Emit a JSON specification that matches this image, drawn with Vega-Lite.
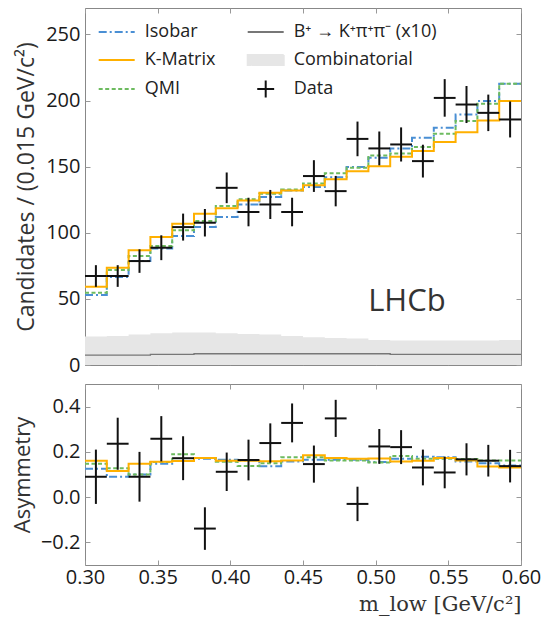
{
  "$schema": "https://vega.github.io/schema/vega-lite/v6.json",
  "padding": {"left": 10, "top": 7, "right": 2, "bottom": 2},
  "bounds": "flush",
  "spacing": 19,
  "datasets": {
    "models": [
      {"m": 0.3, "s": "Isobar", "n": 52.9, "a": 0.125},
      {"m": 0.315, "s": "Isobar", "n": 66.5, "a": 0.09},
      {"m": 0.33, "s": "Isobar", "n": 78.6, "a": 0.1},
      {"m": 0.345, "s": "Isobar", "n": 88.2, "a": 0.147},
      {"m": 0.36, "s": "Isobar", "n": 97.5, "a": 0.16},
      {"m": 0.375, "s": "Isobar", "n": 104.3, "a": 0.17},
      {"m": 0.39, "s": "Isobar", "n": 111.9, "a": 0.165},
      {"m": 0.405, "s": "Isobar", "n": 121.4, "a": 0.162},
      {"m": 0.42, "s": "Isobar", "n": 127, "a": 0.136},
      {"m": 0.435, "s": "Isobar", "n": 132, "a": 0.158},
      {"m": 0.45, "s": "Isobar", "n": 134.6, "a": 0.165},
      {"m": 0.465, "s": "Isobar", "n": 142, "a": 0.165},
      {"m": 0.48, "s": "Isobar", "n": 149.7, "a": 0.165},
      {"m": 0.495, "s": "Isobar", "n": 156.8, "a": 0.155},
      {"m": 0.51, "s": "Isobar", "n": 163.8, "a": 0.17},
      {"m": 0.525, "s": "Isobar", "n": 171.8, "a": 0.179},
      {"m": 0.54, "s": "Isobar", "n": 179.4, "a": 0.176},
      {"m": 0.555, "s": "Isobar", "n": 189.5, "a": 0.158},
      {"m": 0.57, "s": "Isobar", "n": 199.6, "a": 0.15},
      {"m": 0.585, "s": "Isobar", "n": 212.7, "a": 0.14},
      {"m": 0.6, "s": "Isobar", "n": 212.7, "a": 0.14},
      {"m": 0.3, "s": "K-Matrix", "n": 59.2, "a": 0.161},
      {"m": 0.315, "s": "K-Matrix", "n": 73.6, "a": 0.116},
      {"m": 0.33, "s": "K-Matrix", "n": 86.7, "a": 0.148},
      {"m": 0.345, "s": "K-Matrix", "n": 96.8, "a": 0.156},
      {"m": 0.36, "s": "K-Matrix", "n": 106.8, "a": 0.16},
      {"m": 0.375, "s": "K-Matrix", "n": 114.4, "a": 0.173},
      {"m": 0.39, "s": "K-Matrix", "n": 118.5, "a": 0.161},
      {"m": 0.405, "s": "K-Matrix", "n": 124.5, "a": 0.161},
      {"m": 0.42, "s": "K-Matrix", "n": 130.3, "a": 0.159},
      {"m": 0.435, "s": "K-Matrix", "n": 132, "a": 0.162},
      {"m": 0.45, "s": "K-Matrix", "n": 136, "a": 0.185},
      {"m": 0.465, "s": "K-Matrix", "n": 140.4, "a": 0.173},
      {"m": 0.48, "s": "K-Matrix", "n": 146.6, "a": 0.17},
      {"m": 0.495, "s": "K-Matrix", "n": 150.4, "a": 0.171},
      {"m": 0.51, "s": "K-Matrix", "n": 157.5, "a": 0.157},
      {"m": 0.525, "s": "K-Matrix", "n": 161.8, "a": 0.161},
      {"m": 0.54, "s": "K-Matrix", "n": 168.6, "a": 0.173},
      {"m": 0.555, "s": "K-Matrix", "n": 176, "a": 0.162},
      {"m": 0.57, "s": "K-Matrix", "n": 185, "a": 0.135},
      {"m": 0.585, "s": "K-Matrix", "n": 199.6, "a": 0.131},
      {"m": 0.6, "s": "K-Matrix", "n": 199.6, "a": 0.131},
      {"m": 0.3, "s": "QMI", "n": 54.7, "a": 0.147},
      {"m": 0.315, "s": "QMI", "n": 71.8, "a": 0.128},
      {"m": 0.33, "s": "QMI", "n": 82.4, "a": 0.1},
      {"m": 0.345, "s": "QMI", "n": 90, "a": 0.155},
      {"m": 0.36, "s": "QMI", "n": 102, "a": 0.19},
      {"m": 0.375, "s": "QMI", "n": 108.9, "a": 0.173},
      {"m": 0.39, "s": "QMI", "n": 120.2, "a": 0.156},
      {"m": 0.405, "s": "QMI", "n": 125.3, "a": 0.138},
      {"m": 0.42, "s": "QMI", "n": 129.5, "a": 0.15},
      {"m": 0.435, "s": "QMI", "n": 132.8, "a": 0.176},
      {"m": 0.45, "s": "QMI", "n": 137.3, "a": 0.176},
      {"m": 0.465, "s": "QMI", "n": 145, "a": 0.162},
      {"m": 0.48, "s": "QMI", "n": 149.2, "a": 0.162},
      {"m": 0.495, "s": "QMI", "n": 158.5, "a": 0.153},
      {"m": 0.51, "s": "QMI", "n": 160, "a": 0.182},
      {"m": 0.525, "s": "QMI", "n": 164.8, "a": 0.17},
      {"m": 0.54, "s": "QMI", "n": 174.9, "a": 0.17},
      {"m": 0.555, "s": "QMI", "n": 184.5, "a": 0.168},
      {"m": 0.57, "s": "QMI", "n": 197.6, "a": 0.162},
      {"m": 0.585, "s": "QMI", "n": 212.7, "a": 0.162},
      {"m": 0.6, "s": "QMI", "n": 212.7, "a": 0.162}
    ],
    "bkg": [
      {"m": 0.3, "comb": 21.5, "k": 7.5},
      {"m": 0.315, "comb": 22, "k": 7.5},
      {"m": 0.33, "comb": 23, "k": 7.5},
      {"m": 0.345, "comb": 24, "k": 8},
      {"m": 0.36, "comb": 24.5, "k": 8},
      {"m": 0.375, "comb": 24.5, "k": 8.5},
      {"m": 0.39, "comb": 24, "k": 8.5},
      {"m": 0.405, "comb": 23.5, "k": 8.5},
      {"m": 0.42, "comb": 23, "k": 8.5},
      {"m": 0.435, "comb": 22, "k": 8.5},
      {"m": 0.45, "comb": 21, "k": 8.5},
      {"m": 0.465, "comb": 20.5, "k": 8.5},
      {"m": 0.48, "comb": 20, "k": 8.5},
      {"m": 0.495, "comb": 19, "k": 8.5},
      {"m": 0.51, "comb": 18.5, "k": 8},
      {"m": 0.525, "comb": 18.5, "k": 8},
      {"m": 0.54, "comb": 18.5, "k": 8},
      {"m": 0.555, "comb": 18.5, "k": 8},
      {"m": 0.57, "comb": 18.5, "k": 8},
      {"m": 0.585, "comb": 19, "k": 8},
      {"m": 0.6, "comb": 19, "k": 8}
    ],
    "obs": [
      {"lo": 0.3, "hi": 0.315, "c": 0.3075, "n": 67.3, "nlo": 59.1, "nhi": 75.5, "a": 0.09, "alo": -0.03, "ahi": 0.21},
      {"lo": 0.315, "hi": 0.33, "c": 0.3225, "n": 67.3, "nlo": 59.1, "nhi": 75.5, "a": 0.236, "alo": 0.121, "ahi": 0.351},
      {"lo": 0.33, "hi": 0.345, "c": 0.3375, "n": 78.6, "nlo": 69.7, "nhi": 87.5, "a": 0.09, "alo": -0.02, "ahi": 0.2},
      {"lo": 0.345, "hi": 0.36, "c": 0.3525, "n": 88.7, "nlo": 79.3, "nhi": 98.1, "a": 0.258, "alo": 0.158, "ahi": 0.358},
      {"lo": 0.36, "hi": 0.375, "c": 0.3675, "n": 104.3, "nlo": 94.1, "nhi": 114.5, "a": 0.172, "alo": 0.075, "ahi": 0.269},
      {"lo": 0.375, "hi": 0.39, "c": 0.3825, "n": 107.6, "nlo": 97.2, "nhi": 118.0, "a": -0.139, "alo": -0.233, "ahi": -0.045},
      {"lo": 0.39, "hi": 0.405, "c": 0.3975, "n": 134, "nlo": 122.4, "nhi": 145.6, "a": 0.112, "alo": 0.027, "ahi": 0.197},
      {"lo": 0.405, "hi": 0.42, "c": 0.4125, "n": 115.7, "nlo": 104.9, "nhi": 126.5, "a": 0.164, "alo": 0.074, "ahi": 0.254},
      {"lo": 0.42, "hi": 0.435, "c": 0.4275, "n": 121.4, "nlo": 110.4, "nhi": 132.4, "a": 0.239, "alo": 0.152, "ahi": 0.326},
      {"lo": 0.435, "hi": 0.45, "c": 0.4425, "n": 115.7, "nlo": 104.9, "nhi": 126.5, "a": 0.328, "alo": 0.242, "ahi": 0.414},
      {"lo": 0.45, "hi": 0.465, "c": 0.4575, "n": 142.9, "nlo": 130.9, "nhi": 154.9, "a": 0.146, "alo": 0.064, "ahi": 0.228},
      {"lo": 0.465, "hi": 0.48, "c": 0.4725, "n": 131.5, "nlo": 120.0, "nhi": 143.0, "a": 0.348, "alo": 0.266, "ahi": 0.43},
      {"lo": 0.48, "hi": 0.495, "c": 0.4875, "n": 171, "nlo": 157.9, "nhi": 184.1, "a": -0.03, "alo": -0.106, "ahi": 0.046},
      {"lo": 0.495, "hi": 0.51, "c": 0.5025, "n": 163.8, "nlo": 151.0, "nhi": 176.6, "a": 0.224, "alo": 0.147, "ahi": 0.301},
      {"lo": 0.51, "hi": 0.525, "c": 0.5175, "n": 166.8, "nlo": 153.9, "nhi": 179.7, "a": 0.221, "alo": 0.146, "ahi": 0.296},
      {"lo": 0.525, "hi": 0.54, "c": 0.5325, "n": 154.2, "nlo": 141.8, "nhi": 166.6, "a": 0.131, "alo": 0.052, "ahi": 0.21},
      {"lo": 0.54, "hi": 0.555, "c": 0.5475, "n": 202, "nlo": 187.8, "nhi": 216.2, "a": 0.109, "alo": 0.039, "ahi": 0.179},
      {"lo": 0.555, "hi": 0.57, "c": 0.5625, "n": 197, "nlo": 183.0, "nhi": 211.0, "a": 0.167, "alo": 0.096, "ahi": 0.238},
      {"lo": 0.57, "hi": 0.585, "c": 0.5775, "n": 190.7, "nlo": 176.9, "nhi": 204.5, "a": 0.161, "alo": 0.091, "ahi": 0.231},
      {"lo": 0.585, "hi": 0.6, "c": 0.5925, "n": 185.7, "nlo": 172.1, "nhi": 199.3, "a": 0.137, "alo": 0.065, "ahi": 0.209}
    ],
    "legendItems": [
      {"s": "Isobar"}, {"s": "K-Matrix"}, {"s": "QMI"}, {"s": "B⁺ → K⁺π⁺π⁻ (x10)"}, {"s": "Combinatorial"}, {"s": "Data"}
    ]
  },
  "vconcat": [
    {
      "width": 436,
      "height": 357,
      "resolve": {"axis": {"x": "independent", "y": "independent"}},
      "layer": [
        {
          "data": {"name": "bkg"},
          "mark": {"type": "area", "interpolate": "step-after", "fill": "#e6e6e6"},
          "encoding": {
            "x": {"field": "m", "type": "quantitative", "scale": {"domain": [0.3, 0.6], "nice": false, "zero": false},
                  "axis": {"orient": "bottom", "values": [0.3, 0.35, 0.4, 0.45, 0.5, 0.55, 0.6], "labels": false, "title": null}},
            "y": {"field": "comb", "type": "quantitative", "scale": {"domain": [0, 270], "nice": false},
                  "axis": {"orient": "left", "values": [0, 50, 100, 150, 200, 250], "format": "d", "title": "Candidates / (0.015 GeV/c²)", "titlePadding": 7, "titleFontSize": 23}}
          }
        },
        {
          "data": {"name": "bkg"},
          "mark": {"type": "line", "interpolate": "step-after", "stroke": "#777777", "strokeWidth": 1.3},
          "encoding": {
            "x": {"field": "m", "type": "quantitative", "axis": null},
            "y": {"field": "k", "type": "quantitative", "axis": null}
          }
        },
        {
          "data": {"name": "models"},
          "transform": [{"filter": "datum.s === 'Isobar'"}],
          "mark": {"type": "line", "interpolate": "step-after", "strokeWidth": 2, "stroke": "#4a8fd4", "strokeDash": [8, 3, 2, 3]},
          "encoding": {
            "x": {"field": "m", "type": "quantitative", "axis": null},
            "y": {"field": "n", "type": "quantitative", "axis": null}
          }
        },
        {
          "data": {"name": "models"},
          "transform": [{"filter": "datum.s === 'QMI'"}],
          "mark": {"type": "line", "interpolate": "step-after", "strokeWidth": 2, "stroke": "#6dbb5f", "strokeDash": [4, 2.5]},
          "encoding": {
            "x": {"field": "m", "type": "quantitative", "axis": null},
            "y": {"field": "n", "type": "quantitative", "axis": null}
          }
        },
        {
          "data": {"name": "models"},
          "transform": [{"filter": "datum.s === 'K-Matrix'"}],
          "mark": {"type": "line", "interpolate": "step-after", "strokeWidth": 2, "stroke": "#ffb000"},
          "encoding": {
            "x": {"field": "m", "type": "quantitative", "axis": null},
            "y": {"field": "n", "type": "quantitative", "axis": null}
          }
        },
        {
          "data": {"name": "obs"},
          "mark": {"type": "rule", "color": "#111111", "strokeWidth": 2},
          "encoding": {
            "x": {"field": "c", "type": "quantitative",
                  "axis": {"orient": "top", "values": [0.3, 0.35, 0.4, 0.45, 0.5, 0.55, 0.6], "labels": false, "title": null}},
            "y": {"field": "nlo", "type": "quantitative",
                  "axis": {"orient": "right", "values": [0, 50, 100, 150, 200, 250], "labels": false, "title": null}},
            "y2": {"field": "nhi"}
          }
        },
        {
          "data": {"name": "obs"},
          "mark": {"type": "rule", "color": "#111111", "strokeWidth": 2},
          "encoding": {
            "x": {"field": "lo", "type": "quantitative", "axis": null},
            "x2": {"field": "hi"},
            "y": {"field": "n", "type": "quantitative", "axis": null}
          }
        },
        {
          "data": {"values": [{"t": "LHCb"}]},
          "mark": {"type": "text", "font": "Open Sans", "fontSize": 31, "color": "#333333", "align": "center", "baseline": "alphabetic"},
          "encoding": {
            "x": {"datum": 0.5215, "type": "quantitative", "axis": null},
            "y": {"datum": 41, "type": "quantitative", "axis": null},
            "text": {"field": "t"}
          }
        },
        {
          "data": {"name": "legendItems"},
          "mark": {"type": "point", "filled": false, "strokeWidth": 2, "opacity": 0},
          "encoding": {
            "shape": {"field": "s", "type": "nominal",
              "scale": {"domain": ["Isobar", "K-Matrix", "QMI", "B⁺ → K⁺π⁺π⁻ (x10)", "Combinatorial", "Data"],
                        "range": ["M-1,0H1", "M-1,0H1", "M-1,0H1", "M-1,0H1", "M-1,-0.28H1V0.28H-1Z", "M-0.47,0H0.47M0,-0.47V0.47"]},
              "legend": {"orient": "none", "legendX": 12.7, "legendY": 5, "columns": 2, "title": null, "padding": 0,
                         "symbolSize": 1296, "symbolStrokeWidth": 2, "labelFontSize": 18, "labelFont": "Open Sans",
                         "labelColor": "#222222", "rowPadding": -3, "columnPadding": 28, "labelOffset": 9, "labelLimit": 300,
                         "symbolOffset": 0, "symbolOpacity": 1,
                         "encode": {"symbols": {"update": {"opacity": {"value": 1}}}}}},
            "stroke": {"field": "s", "type": "nominal",
              "scale": {"domain": ["Isobar", "K-Matrix", "QMI", "B⁺ → K⁺π⁺π⁻ (x10)", "Combinatorial", "Data"],
                        "range": ["#4a8fd4", "#ffb000", "#6dbb5f", "#777777", "#e6e6e6", "#111111"]}},
            "fill": {"field": "s", "type": "nominal",
              "scale": {"domain": ["Isobar", "K-Matrix", "QMI", "B⁺ → K⁺π⁺π⁻ (x10)", "Combinatorial", "Data"],
                        "range": ["transparent", "transparent", "transparent", "transparent", "#e6e6e6", "transparent"]}},
            "strokeDash": {"field": "s", "type": "nominal",
              "scale": {"domain": ["Isobar", "K-Matrix", "QMI", "B⁺ → K⁺π⁺π⁻ (x10)", "Combinatorial", "Data"],
                        "range": [[8, 3, 2, 3], [1, 0], [4, 2.5], [1, 0], [1, 0], [1, 0]]}}
          }
        }
      ]
    },
    {
      "width": 436,
      "height": 181,
      "resolve": {"axis": {"x": "independent", "y": "independent"}},
      "layer": [
        {
          "mark": {"type": "rule", "stroke": "#cccccc", "strokeWidth": 1, "strokeDash": [4, 4]},
          "encoding": {
            "y": {"datum": 0, "type": "quantitative", "scale": {"domain": [-0.3, 0.5], "nice": false},
                  "axis": {"orient": "left", "values": [-0.2, 0, 0.2, 0.4], "format": ".1f", "title": "Asymmetry", "titlePadding": 6, "titleFontSize": 22}}
          }
        },
        {
          "data": {"name": "models"},
          "transform": [{"filter": "datum.s === 'Isobar'"}],
          "mark": {"type": "line", "interpolate": "step-after", "strokeWidth": 2, "stroke": "#4a8fd4", "strokeDash": [8, 3, 2, 3]},
          "encoding": {
            "x": {"field": "m", "type": "quantitative", "scale": {"domain": [0.3, 0.6], "nice": false, "zero": false},
                  "axis": {"orient": "bottom", "values": [0.3, 0.35, 0.4, 0.45, 0.5, 0.55, 0.6], "format": ".2f", "labelFlush": false,
                           "title": "m_low [GeV/c²]", "titleAnchor": "end", "titleFont": "DejaVu Serif", "titleFontSize": 21, "titlePadding": 6}},
            "y": {"field": "a", "type": "quantitative", "axis": null}
          }
        },
        {
          "data": {"name": "models"},
          "transform": [{"filter": "datum.s === 'QMI'"}],
          "mark": {"type": "line", "interpolate": "step-after", "strokeWidth": 2, "stroke": "#6dbb5f", "strokeDash": [4, 2.5]},
          "encoding": {
            "x": {"field": "m", "type": "quantitative", "axis": null},
            "y": {"field": "a", "type": "quantitative", "axis": null}
          }
        },
        {
          "data": {"name": "models"},
          "transform": [{"filter": "datum.s === 'K-Matrix'"}],
          "mark": {"type": "line", "interpolate": "step-after", "strokeWidth": 2, "stroke": "#ffb000"},
          "encoding": {
            "x": {"field": "m", "type": "quantitative", "axis": null},
            "y": {"field": "a", "type": "quantitative", "axis": null}
          }
        },
        {
          "data": {"name": "obs"},
          "mark": {"type": "rule", "color": "#111111", "strokeWidth": 2},
          "encoding": {
            "x": {"field": "c", "type": "quantitative",
                  "axis": {"orient": "top", "values": [0.3, 0.35, 0.4, 0.45, 0.5, 0.55, 0.6], "labels": false, "title": null}},
            "y": {"field": "alo", "type": "quantitative",
                  "axis": {"orient": "right", "values": [-0.2, 0, 0.2, 0.4], "labels": false, "title": null}},
            "y2": {"field": "ahi"}
          }
        },
        {
          "data": {"name": "obs"},
          "mark": {"type": "rule", "color": "#111111", "strokeWidth": 2},
          "encoding": {
            "x": {"field": "lo", "type": "quantitative", "axis": null},
            "x2": {"field": "hi"},
            "y": {"field": "a", "type": "quantitative", "axis": null}
          }
        }
      ]
    }
  ],
  "config": {
    "font": "Open Sans",
    "view": {"stroke": "#888888", "strokeWidth": 1},
    "axis": {
      "grid": false, "domain": false, "tickSize": -5, "tickColor": "#999999", "labelPadding": 10,
      "labelFont": "Open Sans", "labelFontSize": 20, "labelColor": "#1a1a1a",
      "titleFont": "Open Sans", "titleFontSize": 20, "titleFontWeight": "normal", "titleColor": "#333333"
    },
    "axisX": {"labelFlush": false, "labelPadding": 7}
  }
}
